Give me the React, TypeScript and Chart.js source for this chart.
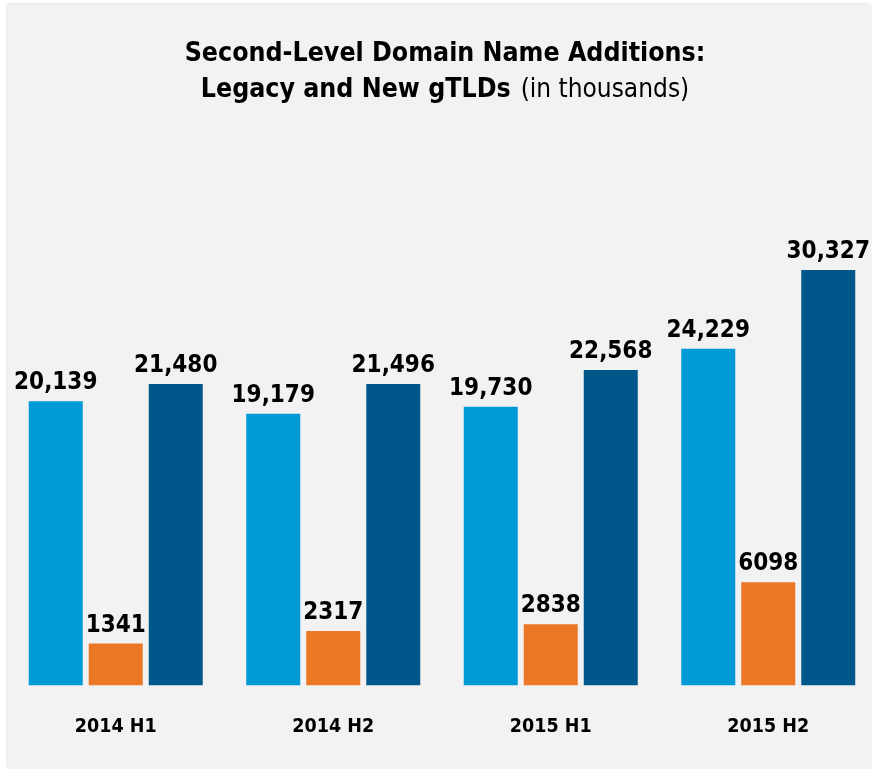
import React, { useEffect, useRef } from "react";
import { Chart, registerables } from "chart.js";

Chart.register(...registerables);

const categories = ["2014 H1", "2014 H2", "2015 H1", "2015 H2"];
const seriesA = [20139, 19179, 19730, 24229];
const seriesB = [1341, 2317, 2838, 6098];
const seriesC = [21480, 21496, 22568, 30327];
const seriesLabels = ["Legacy gTLDs", "New gTLDs", "Total"];
const titleLine1 = "Second-Level Domain Name Additions:";
const titleLine2Bold = "Legacy and New gTLDs";
const titleLine2Light = "(in thousands)";

const FONT = "'Liberation Sans Narrow', 'DejaVu Sans Condensed', sans-serif";
const AXIS_MIN = -1920;
const AXIS_MAX = 36000;

const fmt = (v: number) => (v >= 10000 ? v.toLocaleString("en-US") : String(v));

const overlayPlugin = {
  id: "overlay",
  afterDatasetsDraw(chart: any) {
    const ctx = chart.ctx;
    ctx.save();
    ctx.fillStyle = "#000";
    ctx.textAlign = "center";
    ctx.textBaseline = "alphabetic";
    ctx.font = `bold 24px ${FONT}`;
    chart.data.datasets.forEach((ds: any, di: number) => {
      const meta = chart.getDatasetMeta(di);
      meta.data.forEach((bar: any, i: number) => {
        ctx.fillText(fmt(ds.data[i]), bar.x, bar.y - 12);
      });
    });
    // title
    const cx = 445;
    ctx.font = `bold 26.5px ${FONT}`;
    ctx.fillText(titleLine1, cx, 61);
    const wB = ctx.measureText(titleLine2Bold).width;
    ctx.font = `26px ${FONT}`;
    const wL = ctx.measureText(titleLine2Light).width;
    const gap = 10;
    const start = cx - (wB + gap + wL) / 2;
    ctx.textAlign = "left";
    ctx.font = `bold 26.5px ${FONT}`;
    ctx.fillText(titleLine2Bold, start, 97);
    ctx.font = `26px ${FONT}`;
    ctx.fillText(titleLine2Light, start + wB + gap, 97);
    ctx.restore();
  },
};

export default function App() {
  const ref = useRef<HTMLCanvasElement>(null);
  useEffect(() => {
    if (!ref.current) return;
    const common = { base: AXIS_MIN, barPercentage: 0.9, categoryPercentage: 0.8276 };
    const chart = new Chart(ref.current, {
      type: "bar",
      data: {
        labels: categories,
        datasets: [
          { label: seriesLabels[0], data: seriesA, backgroundColor: "#009AD6", ...common },
          { label: seriesLabels[1], data: seriesB, backgroundColor: "#EB7824", ...common },
          { label: seriesLabels[2], data: seriesC, backgroundColor: "#00578A", ...common },
        ],
      },
      options: {
        animation: false,
        responsive: false,
        layout: { padding: { left: 7, right: 3, top: 197, bottom: 0 } },
        plugins: { legend: { display: false }, tooltip: { enabled: false }, title: { display: false } },
        scales: {
          x: {
            grid: { display: false, drawTicks: false },
            border: { display: false },
            ticks: { color: "#000", font: { family: FONT, size: 19.5, weight: "bold" }, padding: 30 },
          },
          y: { display: false, min: AXIS_MIN, max: AXIS_MAX },
        },
      },
      plugins: [overlayPlugin],
    });
    return () => chart.destroy();
  }, []);
  return (
    <>
      <div
        style={{
          position: "fixed",
          left: 8,
          top: 5,
          right: 0,
          bottom: 0,
          background: "#F2F2F2",
          boxShadow: "-1px -1px 3px rgba(0,0,0,0.12)",
        }}
      />
      <canvas
        ref={ref}
        width={880}
        height={769}
        style={{ position: "fixed", left: 0, top: 0, width: 880, height: 769 }}
      />
    </>
  );
}
